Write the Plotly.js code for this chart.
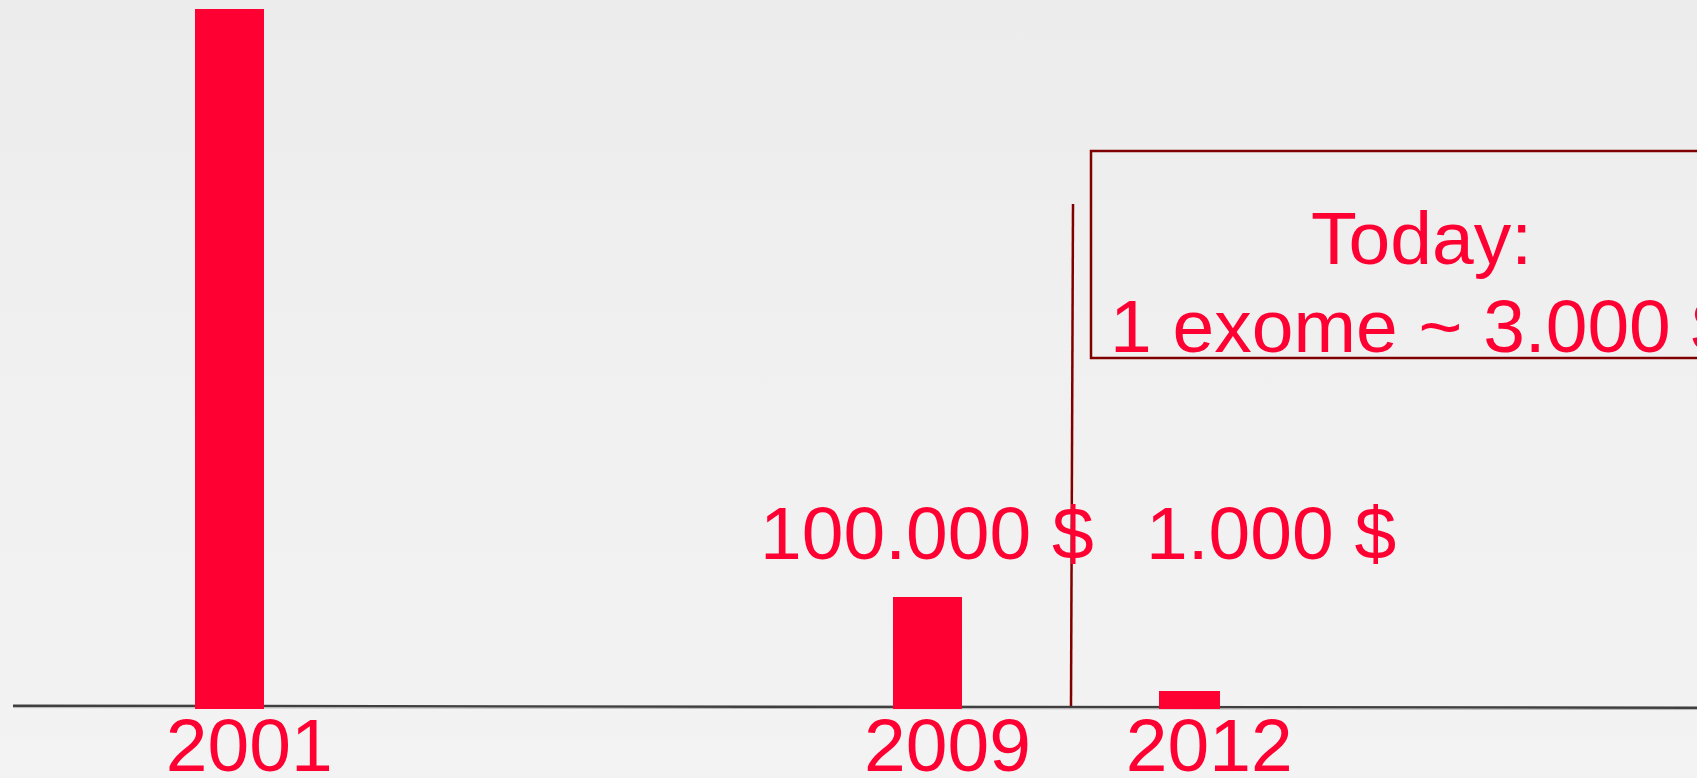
<!DOCTYPE html>
<html>
<head>
<meta charset="utf-8">
<script src="https://cdn.plot.ly/plotly-3.0.1.min.js"></script>
<style>
html, body { margin: 0; padding: 0; overflow: hidden; background: #f0f0f0; }
#chart { width: 1697px; height: 778px; background: linear-gradient(to bottom, #ececec 0%, #f0f0f0 45%, #f3f3f3 100%); }
</style>
</head>
<body>
<div id="chart"></div>
<script>
// ---- data ----
const years = [2001, 2009, 2012];
const yearLabels = ['2001', '2009', '2012'];
// relative bar heights (the picture has no value axis)
const barHeights = [700, 112, 18];
const costYears = [2009, 2012];
const costLabels = ['100.000 $', '1.000 $'];
const noteLines = ['Today:', '1 exome ~ 3.000 $'];

// ---- styling ----
const RED = '#ff0033';
const DARKRED = '#800000';
const FONT = 'Liberation Sans, Arial, Helvetica, sans-serif';
const W = 1697, H = 778, PLOT_H = 709;
const py = p => (PLOT_H - p) / PLOT_H;   // pixel row -> paper y
const px = p => p / W;                   // pixel col -> paper x

const trace = {
  type: 'bar',
  x: years,
  y: barHeights,
  width: [0.79, 0.8, 0.7],
  marker: { color: RED, line: { width: 0 } },
  hoverinfo: 'skip'
};

const annotations = [];
const costShift = [0, 82];
costLabels.forEach((t, i) => {
  annotations.push({
    xref: 'x', x: costYears[i], xshift: costShift[i],
    yref: 'paper', y: py(533), yanchor: 'middle', xanchor: 'center',
    text: t, showarrow: false,
    font: { family: FONT, size: 75, color: RED }
  });
});
const noteRows = [238, 326];
noteLines.forEach((t, i) => {
  annotations.push({
    xref: 'paper', x: px(1421), xanchor: 'center',
    yref: 'paper', y: py(noteRows[i]), yanchor: 'middle',
    text: t, showarrow: false,
    font: { family: FONT, size: 75, color: RED }
  });
});

const layout = {
  width: W, height: H,
  margin: { l: 0, r: 0, t: 0, b: H - PLOT_H, pad: 0 },
  paper_bgcolor: 'rgba(0,0,0,0)',
  plot_bgcolor: 'rgba(0,0,0,0)',
  showlegend: false,
  bargap: 0,
  xaxis: {
    type: 'linear',
    range: [1998.374, 2017.817],
    anchor: 'free', position: 0.02,
    tickmode: 'array', tickvals: years, ticktext: yearLabels,
    ticks: '', showgrid: false, zeroline: false, showline: false,
    automargin: false,
    ticklabelshift: 20,
    ticklabelstandoff: 0,
    tickfont: { family: FONT, size: 75, color: RED },
    fixedrange: true
  },
  yaxis: {
    range: [0, PLOT_H],
    visible: false, showgrid: false, zeroline: false,
    automargin: false, fixedrange: true
  },
  shapes: [
    // baseline (slightly tilted, as in the picture)
    { type: 'line', layer: 'below', xref: 'paper', yref: 'paper',
      x0: px(13), y0: py(705.8), x1: 1, y1: py(707.8),
      line: { color: '#3f3f3f', width: 2.5 } },
    { type: 'line', layer: 'below', xref: 'paper', yref: 'paper',
      x0: px(13), y0: py(707.6), x1: 1, y1: py(709.6),
      line: { color: '#b5b5b5', width: 1 } },
    // vertical marker line
    { type: 'line', layer: 'above', xref: 'paper', yref: 'paper',
      x0: px(1073), y0: py(204), x1: px(1071), y1: py(706),
      line: { color: DARKRED, width: 2.5 } },
    // "Today" box (runs off the right edge)
    { type: 'rect', layer: 'above', xref: 'paper', yref: 'paper',
      x0: px(1091), y0: py(358), x1: 1.06, y1: py(151),
      line: { color: DARKRED, width: 2.5 }, fillcolor: 'rgba(0,0,0,0)' }
  ],
  annotations: annotations
};

Plotly.newPlot('chart', [trace], layout, { displayModeBar: false, staticPlot: true });
</script>
</body>
</html>
